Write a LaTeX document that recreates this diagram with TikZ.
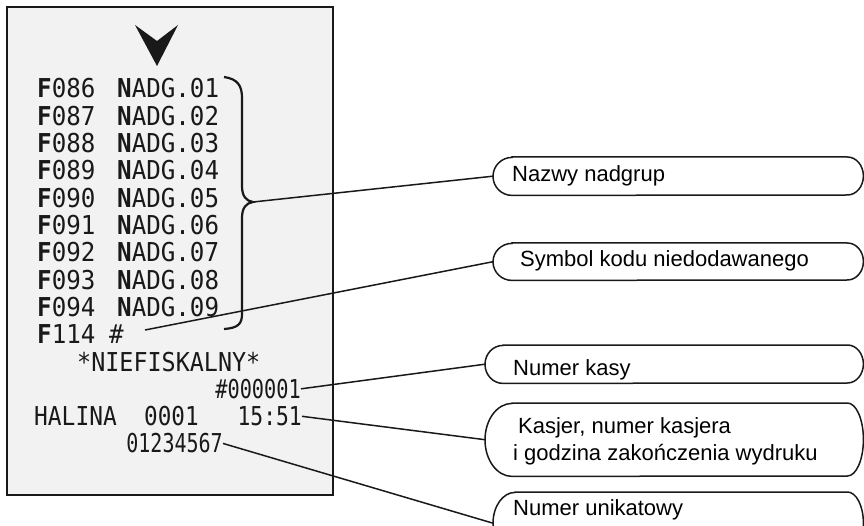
\documentclass[tikz,border=0pt]{standalone}
\usepackage{fontspec}
\setmainfont{Liberation Sans}
\newfontfamily\rfont{DejaVu Sans Mono}
\usepackage{graphicx}
\definecolor{paper}{RGB}{242,242,242}
\definecolor{ink}{RGB}{25,25,25}
\tikzset{
  rcpt/.style={inner sep=0pt, anchor=base west, text=ink, font=\rfont\fontsize{26}{26}\selectfont},
  rcpte/.style={rcpt, anchor=base east},
  lbl/.style={inner sep=0pt, anchor=base west, font=\fontsize{22}{27}\selectfont},
  conn/.style={line width=1.5pt, draw=ink},
  cbox/.style={draw=none, inner sep=0pt, anchor=north west},
}
\newcommand\sx[2]{\scalebox{#1}[1]{#2}}
\newcommand\outline[3]{%
  \draw[line width=1.5pt, draw=ink] ([xshift=#2pt]#1.north west) -- ([xshift=-16pt]#1.north east)
    arc[start angle=90, end angle=-90, x radius=16pt, y radius=#3pt]
    -- ([xshift=#2pt]#1.south west)
    arc[start angle=-90, end angle=-270, x radius=#2pt, y radius=#3pt] -- cycle;}
\begin{document}
\begin{tikzpicture}[x=1pt, y=-1pt]
\useasboundingbox (0,0) rectangle (864,526);
\begin{scope}
\clip (0,0) rectangle (864,526);
% receipt
\draw[fill=paper, draw=ink, line width=2pt] (7,7) rectangle (333,495);
\fill[ink] (135,25) -- (157,66) -- (178,25) -- (157,41) -- cycle;
% rows
\foreach \i/\f/\n in {0/086/01,1/087/02,2/088/03,3/089/04,4/090/05,5/091/06,6/092/07,7/093/08,8/094/09}{
  \node[rcpt] (f\f) at (37,{98+27.3*\i}) {\sx{0.93}{{\bfseries F}\f}};
  \node[rcpt] (n\n) at (117,{98+27.3*\i}) {\sx{0.93}{{\bfseries N}ADG.\n}};
}
\node[rcpt] (f114) at (37,{98+27.3*9}) {\sx{0.93}{{\bfseries F}114}};
\node[rcpt] (hash) at (109,{98+27.3*9}) {\sx{0.93}{\#}};
\node[rcpt] (niefisk) at (77,{98+27.3*10}) {\sx{0.9}{*NIEFISKALNY*}};
\node[rcpte] (kasnr) at (301,{98+27.3*11}) {\sx{0.78}{\#000001}};
\node[rcpt] (halina) at (34,{98+27.3*12}) {\sx{0.88}{HALINA}};
\node[rcpt] (kasjnr) at (144,{98+27.3*12}) {\sx{0.87}{0001}};
\node[rcpte] (godz) at (302,{98+27.3*12}) {\sx{0.82}{15:51}};
\node[rcpte] (unik) at (223,{98+27.3*13}) {\sx{0.77}{01234567}};
% brace
\draw[line width=2.2pt, draw=ink] (224,77) .. controls (238,79) and (242,86) .. (242,98)
  -- (242,186) .. controls (242,196) and (246,201) .. (253,202)
  .. controls (246,203) and (242,208) .. (242,218)
  -- (242,314) .. controls (242,324) and (238,328) .. (224,329);
\coordinate (btip) at (253,202);
\coordinate (symstart) at (145,330);
% callout boxes
\node[cbox, minimum width=370pt, minimum height=38pt] (nazwy) at (493,157) {};
\node[cbox, minimum width=370pt, minimum height=37pt] (symbol) at (493,243) {};
\node[cbox, minimum width=378pt, minimum height=38pt] (kasy) at (485,345) {};
\node[cbox, minimum width=378pt, minimum height=73pt] (kasjer) at (485,403) {};
\node[cbox, minimum width=370pt, minimum height=62pt] (uni) at (493,492) {};
\outline{nazwy}{19}{19}
\outline{symbol}{19}{18.5}
\outline{kasy}{18}{19}
\outline{kasjer}{27}{36.5}
\outline{uni}{22}{31}
\node[lbl] (tnazwy) at (512,182) {Nazwy nadgrup};
\node[lbl] (tsym) at (520,267) {Symbol kodu niedodawanego};
\node[lbl] (tkasy) at (513,375) {Numer kasy};
\node[lbl] (tkas1) at (518,433) {Kasjer, numer kasjera};
\node[lbl] (tkas2) at (513,460) {i godzina zakończenia wydruku};
\node[lbl] (tuni) at (513,515) {Numer unikatowy};
% connectors
\draw[conn] (btip) -- (nazwy.west);
\draw[conn] (symstart) -- (symbol.west);
\draw[conn] (kasnr.east) -- (kasy.west);
\draw[conn] (godz.east) -- (kasjer.west);
\draw[conn] (unik.east) -- (uni.west);
\end{scope}
\end{tikzpicture}
\end{document}
